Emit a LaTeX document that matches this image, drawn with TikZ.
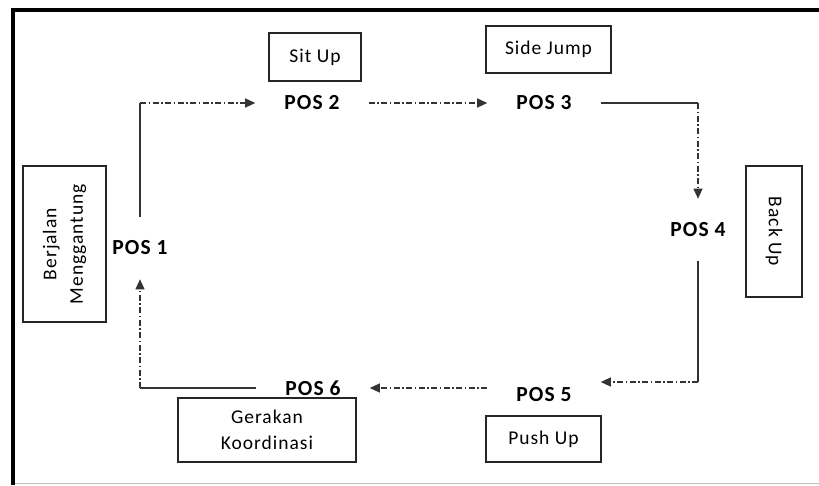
\documentclass[tikz,border=0pt]{standalone}
\usepackage{fontspec}
\setmainfont{Carlito}[LetterSpace=5]
\usetikzlibrary{arrows.meta}

\begin{document}
\begin{tikzpicture}[x=1pt, y=-1pt,
  station/.style={font=\fontsize{21.5}{26}\selectfont\bfseries, inner xsep=29pt, inner ysep=24pt},
  task/.style={draw=black!85, line width=1.2pt, font=\fontsize{19.5}{26.5}\selectfont, align=center, inner sep=0pt},
  link/.style={black!80, line width=1.1pt},
  flow/.style={black!80, line width=1.1pt, dash pattern=on 6pt off 2.5pt on 1.5pt off 2.5pt, -{Triangle[length=10pt,width=9pt]}}]
\useasboundingbox (0,0) rectangle (819,485);

% frame
\draw[gray!50, line width=1pt] (14,483.5) -- (819,483.5);
\draw[line width=4pt] (12.5,485) -- (12.5,9.5) -- (819,9.5);

% stations
\node[station] (pos1) at (140,248) {POS 1};
\node[station] (pos2) at (312,103) {POS 2};
\node[station] (pos3) at (544,103) {POS 3};
\node[station] (pos4) at (698,230) {POS 4};
\node[station] (pos5) at (544,395) {POS 5};
\node[station] (pos6) at (313,388) {POS 6};

% exercises
\node[task, rotate=90, minimum width=156pt, minimum height=83pt] (gantung) at (64.5,244) {Berjalan\\Menggantung};
\node[task, minimum width=92pt, minimum height=48pt] (situp) at (315,57) {Sit Up};
\node[task, minimum width=125pt, minimum height=47pt] (sidejump) at (548.5,49.5) {Side Jump};
\node[task, rotate=-90, minimum width=131pt, minimum height=56pt] (backup) at (774,231.5) {Back Up};
\node[task, minimum width=115pt, minimum height=46pt] (pushup) at (543.5,439) {Push Up};
\node[task, minimum width=178pt, minimum height=64pt] (koordinasi) at (267,430) {Gerakan\\Koordinasi};

% route
\coordinate (c1) at (pos1 |- pos2);
\coordinate (c3) at (pos4 |- pos3);
\path (pos4 |- pos5) ++(0,-13) coordinate (c4);
\coordinate (c6) at (pos1 |- pos6);

\draw[link] (pos1) -- (c1);
\draw[flow] (c1) -- (pos2);
\draw[flow] (pos2) -- (pos3);
\draw[link] (pos3) -- (c3);
\draw[flow] (c3) -- (pos4);
\draw[link] (pos4) -- (c4);
\draw[flow] (c4) -- (pos5.east |- c4);
\draw[flow] (pos5.west |- pos6) -- (pos6);
\draw[link] (pos6) -- (c6);
\draw[flow] (c6) -- (pos1);
\end{tikzpicture}
\end{document}
